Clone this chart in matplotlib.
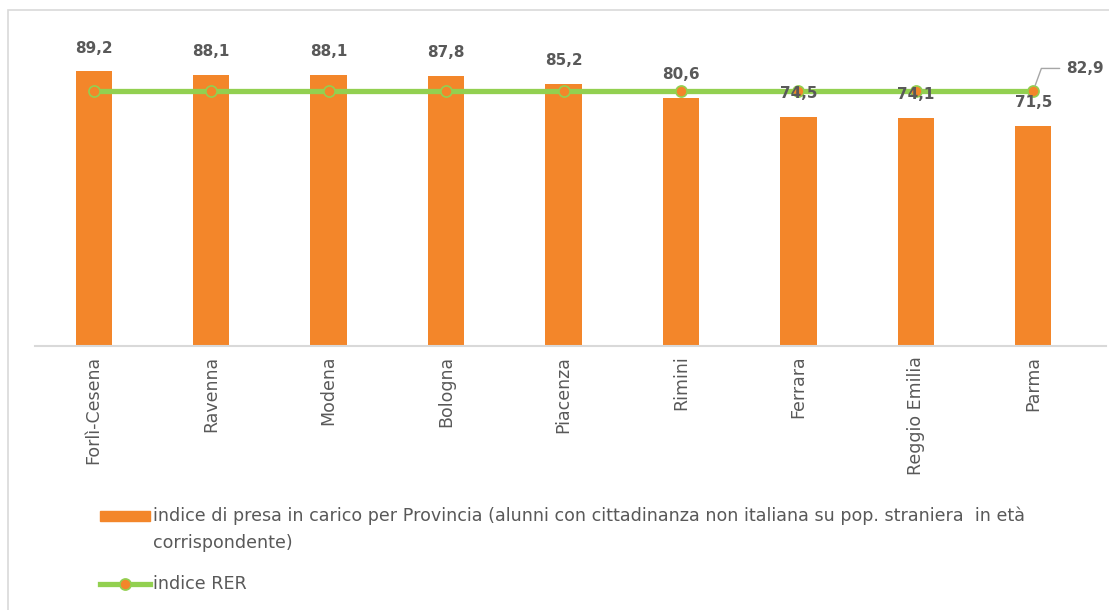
import matplotlib.pyplot as plt
from matplotlib.lines import Line2D
from matplotlib.patches import Rectangle

province = ['Forlì-Cesena', 'Ravenna', 'Modena', 'Bologna', 'Piacenza',
            'Rimini', 'Ferrara', 'Reggio Emilia', 'Parma']
indice = [89.2, 88.1, 88.1, 87.8, 85.2, 80.6, 74.5, 74.1, 71.5]
indice_rer = [82.9] * len(province)

ORANGE = '#F3862A'
GREEN = '#92D050'
GRAY_TXT = '#595959'

fig = plt.figure(figsize=(11.09, 6.10), dpi=100)
W, H = 1109, 610

# outer chart frame
fig.patches.append(Rectangle((8 / W, -0.1), 1.2, 1 - 10 / H + 0.1,
                             transform=fig.transFigure, fill=False,
                             edgecolor='#D9D9D9', lw=1.2))

ax = fig.add_axes([35 / W, 1 - 346 / H, (1092 - 35) / W, (346 - 38) / H])
x = range(len(province))
ax.bar(x, indice, width=0.31, color=ORANGE, zorder=2)
ax.plot(x, indice_rer, color=GREEN, lw=3.8, marker='o', ms=8,
        mfc=ORANGE, mec=GREEN, mew=1.2, zorder=3)

for xi, v in zip(x, indice):
    ax.annotate(f'{v:.1f}'.replace('.', ','), (xi, v), xytext=(0, 16.5),
                textcoords='offset points', ha='center', va='center',
                fontsize=11, fontweight='bold', color=GRAY_TXT, zorder=4)

# label for the regional index, with leader line
last = len(province) - 1
ax.annotate(f'{indice_rer[last]:.1f}'.replace('.', ','), (last, indice_rer[last]),
            xytext=(24, 16), textcoords='offset points', ha='left', va='center',
            fontsize=11, fontweight='bold', color=GRAY_TXT, annotation_clip=False,
            arrowprops=dict(arrowstyle='-', color='#A6A6A6', lw=1,
                            relpos=(0, 0.5), shrinkA=3, shrinkB=4,
                            connectionstyle='angle,angleA=180,angleB=70,rad=0'))

ax.set_xlim(-0.5, 8.5)
ax.set_ylim(0, 100)
ax.set_yticks([])
ax.set_xticks(list(x))
ax.set_xticklabels(province, rotation=90, fontsize=12.5, color=GRAY_TXT)
ax.tick_params(axis='x', length=0, pad=7)
for s in ['top', 'right', 'left']:
    ax.spines[s].set_visible(False)
ax.spines['bottom'].set_color('#D9D9D9')
ax.spines['bottom'].set_linewidth(1.5)
ax.spines['bottom'].set_bounds(-0.5, 8.62)

# legend drawn below the plot
fig.patches.append(Rectangle((100 / W, 1 - 521 / H), 50 / W, 10 / H,
                             transform=fig.transFigure, color=ORANGE))
fig.text(153 / W, 1 - 516 / H,
         'indice di presa in carico per Provincia (alunni con cittadinanza non italiana su pop. straniera  in età',
         fontsize=12.6, color=GRAY_TXT, va='center')
fig.text(153 / W, 1 - 543 / H, 'corrispondente)',
         fontsize=12.6, color=GRAY_TXT, va='center')
fig.lines.append(Line2D([100 / W, 125 / W, 150 / W], [1 - 584 / H] * 3,
                        transform=fig.transFigure, color=GREEN, lw=3.8,
                        marker='o', markevery=[1], ms=8, mfc=ORANGE,
                        mec=GREEN, mew=1.2))
fig.text(153 / W, 1 - 584 / H, 'indice RER', fontsize=12.6, color=GRAY_TXT,
         va='center')

plt.savefig('out.png', dpi=100)
